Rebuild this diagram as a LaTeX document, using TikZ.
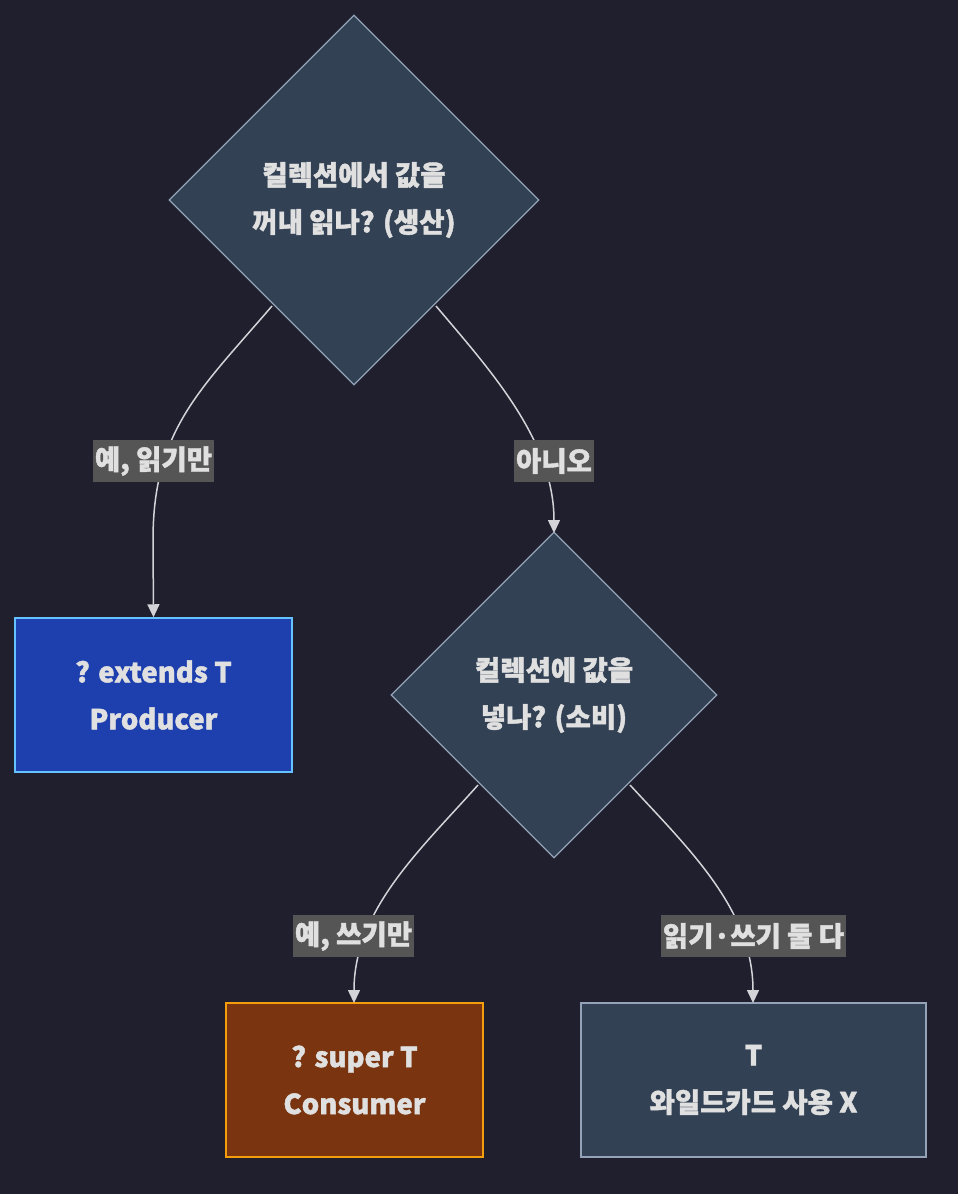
\documentclass[tikz,border=0pt]{standalone}
\usepackage{fontspec}
\setmainfont{Noto Sans CJK KR}[FakeBold=1.5]
\usetikzlibrary{shapes.geometric,arrows.meta}
\definecolor{bg}{HTML}{1F1F2E}
\definecolor{slate}{HTML}{334155}
\definecolor{sline}{HTML}{94A3B8}
\definecolor{edge}{HTML}{D4D4D8}
\definecolor{lbl}{HTML}{555555}
\begin{document}
\begin{tikzpicture}[x=1pt,y=-1pt,
  every node/.style={font=\fontsize{27.5}{47}\selectfont\bfseries, text=white!88!black, align=center},
  dia/.style={diamond, draw=sline, fill=slate, line width=1.2pt, minimum width=#1, minimum height=#1, inner sep=0},
  box/.style={draw, line width=1.5pt, inner sep=0},
  lab/.style={fill=lbl, inner sep=2pt, minimum height=42pt},
  con/.style={draw=edge, line width=1.5pt, -{Triangle[length=13pt,width=12pt]}}]
\fill[bg] (0,0) rectangle (958,1194);
\useasboundingbox (0,0) rectangle (958,1194);
\node[dia=370pt] (d1) at (354,200) {컬렉션에서 값을\\꺼내 읽나? (생산)};
\node[dia=326pt] (d2) at (554,695) {컬렉션에 값을\\넣나? (소비)};
\node[box, draw=blue!40!cyan!60!white, fill={rgb,255:red,30;green,64;blue,175}, minimum width=277pt, minimum height=154pt] (p) at (153.5,695) {? extends T\\Producer};
\node[box, draw={rgb,255:red,245;green,158;blue,11}, fill={rgb,255:red,122;green,53;blue,16}, minimum width=257pt, minimum height=154pt] (c) at (354.5,1080) {? super T\\Consumer};
\node[box, draw=sline, fill=slate, minimum width=345pt, minimum height=154pt] (t) at (753.5,1080) {T\\와일드카드 사용 X};
\coordinate (a1) at (272,306); \coordinate (a2) at (436,306);
\coordinate (b1) at (478,785); \coordinate (b2) at (630,785);
\draw[con] (a1) .. controls (200,390) and (153,430) .. (153,540) -- (p.north);
\draw[con] (a2) .. controls (490,370) and (554,440) .. (554,533);
\draw[con] (b1) .. controls (420,850) and (354,910) .. (354,1003);
\draw[con] (b2) .. controls (690,850) and (753,910) .. (753,1003);
\node[lab] at (153.5,461) {예, 읽기만};
\node[lab] at (554,461) {아니오};
\node[lab] at (353.5,936) {예, 쓰기만};
\node[lab] at (753.5,936) {읽기·쓰기 둘 다};
\end{tikzpicture}
\end{document}
